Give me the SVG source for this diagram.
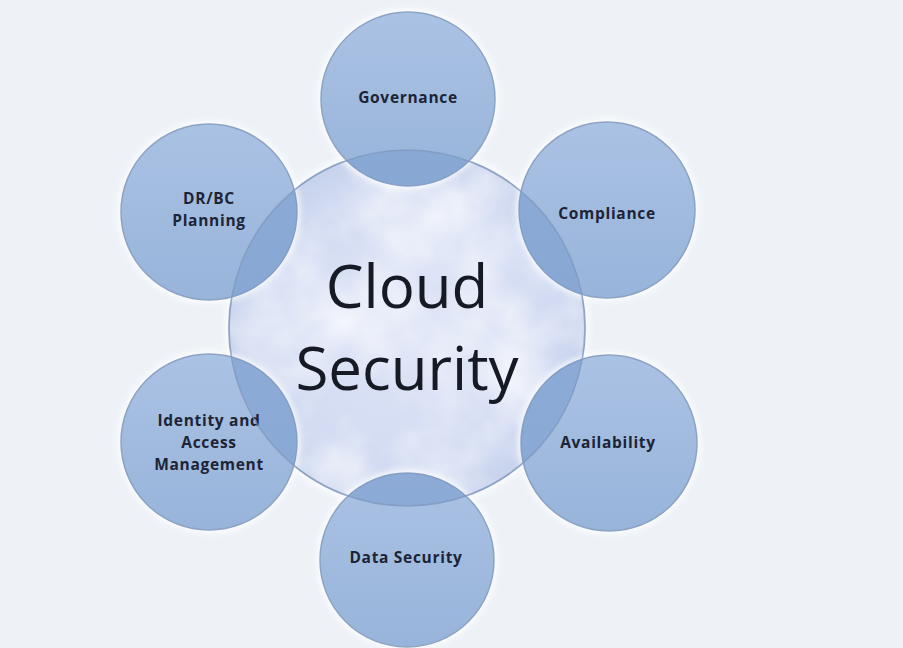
<svg xmlns="http://www.w3.org/2000/svg" width="903" height="648" viewBox="0 0 903 648">
<style>
.outer{fill:url(#gOuter);stroke:#8ca3c4;stroke-width:1.5}
.halo{fill:#ffffff;opacity:0.85;filter:url(#blur)}
.ov{fill:url(#gOv)}
.edge{fill:none;stroke:#7f97bd;stroke-width:1.5;opacity:0.75}
.lbl{font-family:"Open Sans","DejaVu Sans",sans-serif;font-weight:700;font-size:15.5px;letter-spacing:0.7px;fill:#1c2435;text-anchor:middle}
.big{font-family:"Open Sans","DejaVu Sans",sans-serif;font-weight:400;font-size:60px;fill:#151a24;text-anchor:middle}
</style>
<defs>
<linearGradient id="gOuter" x1="0" y1="0" x2="0" y2="1">
<stop offset="0" stop-color="#aac2e4"/>
<stop offset="1" stop-color="#98b4da"/>
</linearGradient>
<linearGradient id="gOv" x1="0" y1="0" x2="0" y2="1">
<stop offset="0" stop-color="#6f93c8" stop-opacity="0.5"/>
<stop offset="1" stop-color="#7498cc" stop-opacity="0.45"/>
</linearGradient>
<radialGradient id="gCenter" cx="0.5" cy="0.5" r="0.5">
<stop offset="0" stop-color="#dfe5f7"/>
<stop offset="0.8" stop-color="#d2dbf2"/>
<stop offset="1" stop-color="#c7d2ec"/>
</radialGradient>
<filter id="blur" x="-20%" y="-20%" width="140%" height="140%">
<feGaussianBlur stdDeviation="3"/>
</filter>
<filter id="clouds" x="0" y="0" width="100%" height="100%">
<feTurbulence type="fractalNoise" baseFrequency="0.011" numOctaves="4" seed="7" result="n"/>
<feColorMatrix in="n" type="matrix" values="0 0 0 0 1  0 0 0 0 1  0 0 0 0 1  2.0 0 0 0 -0.72" result="w"/>
<feComposite in="w" in2="SourceGraphic" operator="in"/>
</filter>
<clipPath id="cpCenter"><circle cx="407" cy="328" r="178"/></clipPath>
</defs>
<rect width="903" height="648" fill="#eef2f7"/>

<g id="center">
<circle cx="407" cy="328" r="182" fill="#ffffff" opacity="0.8" filter="url(#blur)"/>
<circle cx="407" cy="328" r="178" fill="url(#gCenter)"/>
<circle cx="407" cy="328" r="178" fill="#ffffff" filter="url(#clouds)" opacity="0.75"/>
<circle cx="407" cy="328" r="178" fill="none" stroke="#bcc8dc" stroke-width="2"/>
</g>

<g id="governance">
<circle class="halo" cx="408" cy="99" r="90"/>
<circle class="outer" cx="408" cy="99" r="87"/>
<circle class="ov" cx="408" cy="99" r="87" clip-path="url(#cpCenter)"/>
<text class="lbl" x="408" y="103">Governance</text>
</g>

<g id="compliance">
<circle class="halo" cx="607" cy="210" r="91"/>
<circle class="outer" cx="607" cy="210" r="88"/>
<circle class="ov" cx="607" cy="210" r="88" clip-path="url(#cpCenter)"/>
<text class="lbl" x="607" y="219">Compliance</text>
</g>

<g id="availability">
<circle class="halo" cx="609" cy="443" r="91"/>
<circle class="outer" cx="609" cy="443" r="88"/>
<circle class="ov" cx="609" cy="443" r="88" clip-path="url(#cpCenter)"/>
<text class="lbl" x="608" y="448">Availability</text>
</g>

<g id="data-security">
<circle class="halo" cx="407" cy="560" r="90"/>
<circle class="outer" cx="407" cy="560" r="87"/>
<circle class="ov" cx="407" cy="560" r="87" clip-path="url(#cpCenter)"/>
<text class="lbl" x="406" y="563">Data Security</text>
</g>

<g id="identity">
<circle class="halo" cx="209" cy="442" r="91"/>
<circle class="outer" cx="209" cy="442" r="88"/>
<circle class="ov" cx="209" cy="442" r="88" clip-path="url(#cpCenter)"/>
<text class="lbl" x="209" y="426">Identity and</text>
<text class="lbl" x="209" y="448">Access</text>
<text class="lbl" x="209" y="470">Management</text>
</g>

<g id="drbc">
<circle class="halo" cx="209" cy="212" r="91"/>
<circle class="outer" cx="209" cy="212" r="88"/>
<circle class="ov" cx="209" cy="212" r="88" clip-path="url(#cpCenter)"/>
<text class="lbl" x="209" y="204">DR/BC</text>
<text class="lbl" x="209" y="226">Planning</text>
</g>

<g id="center-edge">
<circle class="edge" cx="407" cy="328" r="178"/>
</g>

<g id="center-label">
<text class="big" x="407" y="308">Cloud</text>
<text class="big" x="407" y="390">Security</text>
</g>
</svg>
